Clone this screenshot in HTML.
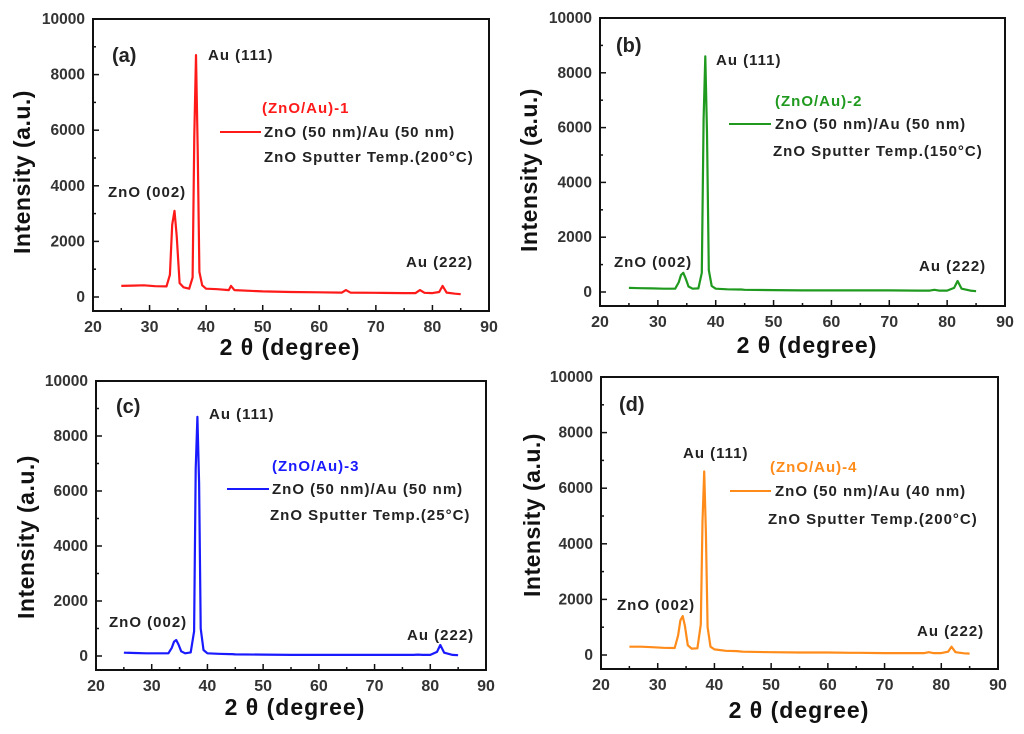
<!DOCTYPE html>
<html><head><meta charset="utf-8"><style>
body{margin:0;background:#fff;width:1024px;height:734px;overflow:hidden}
svg{display:block;font-family:"Liberation Sans",Arial,sans-serif}
</style></head><body>
<svg id="fig" width="1024" height="734" viewBox="0 0 1024 734"></svg>
<script>
const twoTheta=[25,27,29,31,33,33.6,34.0,34.4,34.8,35.3,36,37,37.6,37.9,38.2,38.5,38.8,39.3,40,42,44,44.4,45,50,55,60,64,64.7,65.5,70,75,77,77.8,78.6,80,81.2,81.8,82.5,84,85];
const intensityA=[400,410,420,390,380,800,2600,3100,2200,500,350,300,700,5800,8700,5300,900,420,300,280,250,400,250,200,180,170,160,250,160,150,140,140,250,150,140,180,400,160,120,100];
const intensityB=[150,140,130,120,120,350,620,700,500,200,120,130,700,6300,8600,5800,800,220,120,100,90,90,80,70,60,60,60,60,60,60,50,50,80,50,50,150,400,120,50,30];
const intensityC=[120,110,100,100,100,300,520,580,420,170,100,130,900,6800,8700,6300,1000,220,100,80,70,70,60,50,40,40,40,40,40,40,40,40,50,40,40,150,400,120,40,30];
const intensityD=[300,300,280,260,250,700,1250,1400,1050,350,230,240,1100,4800,6600,4400,1000,300,200,150,140,130,120,100,90,90,80,80,80,70,70,70,100,70,70,120,300,100,60,50];
const xTicks=[20,30,40,50,60,70,80,90];
const yTicks=[0,2000,4000,6000,8000,10000];

const NS="http://www.w3.org/2000/svg";
const svg=document.getElementById('fig');
function mk(tag,attrs,parent,text){const e=document.createElementNS(NS,tag);for(const k in attrs)e.setAttribute(k,attrs[k]);if(text!==undefined)e.textContent=text;(parent||svg).appendChild(e);return e;}

const panels=[
 {id:'a',color:'#ff1a1a',data:intensityA,x0:93,x1:489,yTop:19,yZero:297,yBot:311,
  tag:[112,55],au111:[208,55],title:[262,108,'(ZnO/Au)-1'],line:[220,261,132],t1:[264,132,'ZnO (50 nm)/Au (50 nm)'],t2:[264,157,'ZnO Sputter Temp.(200°C)'],zno:[108,192],au222:[406,262],ytitle:[22,172],xtitle:[290,347]},
 {id:'b',color:'#1f9a1f',data:intensityB,x0:600,x1:1005,yTop:18,yZero:292,yBot:306,
  tag:[616,45],au111:[716,60],title:[775,101,'(ZnO/Au)-2'],line:[729,771,124],t1:[775,124,'ZnO (50 nm)/Au (50 nm)'],t2:[773,151,'ZnO Sputter Temp.(150°C)'],zno:[614,262],au222:[919,266],ytitle:[529,170],xtitle:[807,345]},
 {id:'c',color:'#1a1aff',data:intensityC,x0:96,x1:486,yTop:381,yZero:656,yBot:670,
  tag:[116,406],au111:[209,414],title:[272,466,'(ZnO/Au)-3'],line:[227,269,489],t1:[272,489,'ZnO (50 nm)/Au (50 nm)'],t2:[270,515,'ZnO Sputter Temp.(25°C)'],zno:[109,622],au222:[407,635],ytitle:[26,537],xtitle:[295,707]},
 {id:'d',color:'#ff8c1a',data:intensityD,x0:601,x1:998,yTop:377,yZero:655,yBot:669,
  tag:[619,404],au111:[683,453],title:[770,467,'(ZnO/Au)-4'],line:[730,771,491],t1:[775,491,'ZnO (50 nm)/Au (40 nm)'],t2:[768,519,'ZnO Sputter Temp.(200°C)'],zno:[617,605],au222:[917,631],ytitle:[532,515],xtitle:[799,710]}
];

panels.forEach(p=>{
 const g=mk('g',{});
 
 
 const X=v=>p.x0+(v-20)/70*(p.x1-p.x0);
 const Y=v=>p.yZero-(v/10000)*(p.yZero-p.yTop);
 const box=mk('rect',{x:p.x0,y:p.yTop,width:p.x1-p.x0,height:p.yBot-p.yTop,fill:'none',stroke:'#111','stroke-width':2},g);
 
 
 for(let v=20;v<=90;v+=5){const major=v%10===0;const x=X(v);
  mk('line',{x1:x,x2:x,y1:p.yBot,y2:p.yBot-(major?6:3),stroke:'#111','stroke-width':1.5},g);}
 xTicks.forEach(v=>{const t=mk('text',{x:X(v),y:p.yBot+21,'text-anchor':'middle','font-size':16,'font-weight':'bold',fill:'#333'},g,String(v));
  
  });
 for(let v=0;v<=10000;v+=1000){const major=v%2000===0;const y=Y(v);
  mk('line',{x1:p.x0,x2:p.x0+(major?6:3),y1:y,y2:y,stroke:'#111','stroke-width':1.5},g);}
 yTicks.forEach(v=>{const t=mk('text',{x:p.x0-8,y:Y(v)+5,'text-anchor':'end','font-size':15.5,'font-weight':'bold',fill:'#333'},g,String(v));
  
  });
 const d=twoTheta.map((t,i)=>(i?'L':'M')+X(t).toFixed(1)+' '+Y(p.data[i]).toFixed(1)).join(' ');
 const path=mk('path',{d:d,fill:'none',stroke:p.color,'stroke-width':2.2,'stroke-linejoin':'round'},g);
 
 
 function lab(pos,txt,name,opt){const t=mk('text',Object.assign({x:pos[0],y:pos[1]+5,'font-size':15,'font-weight':'bold','letter-spacing':1,fill:'#222'},opt||{}),g,txt);
  
  return t;}
 lab(p.tag,'('+p.id+')','panel-tag',{'font-size':20,'letter-spacing':0,y:p.tag[1]+7});
 lab(p.au111,'Au (111)','au-111-label');
 lab(p.zno,'ZnO (002)','zno-002-label');
 lab(p.au222,'Au (222)','au-222-label');
 lab(p.title,p.title[2],'legend-title',{fill:p.color});
 const ll=mk('line',{x1:p.line[0],x2:p.line[1],y1:p.line[2],y2:p.line[2],stroke:p.color,'stroke-width':2},g);
 
 
 lab(p.t1,p.t1[2],'legend-entry');
 lab(p.t2,p.t2[2],'legend-note');
 const yt=mk('text',{x:0,y:0,'text-anchor':'middle','font-size':23,'font-weight':'bold','letter-spacing':0.5,fill:'#111',transform:`translate(${p.ytitle[0]+8},${p.ytitle[1]}) rotate(-90)`},g,'Intensity (a.u.)');
 
 
 const xt=mk('text',{x:p.xtitle[0],y:p.xtitle[1]+8,'text-anchor':'middle','font-size':23,'font-weight':'bold','letter-spacing':1,fill:'#111'},g,'2 θ (degree)');
 
 
});
</script>
</body></html>
